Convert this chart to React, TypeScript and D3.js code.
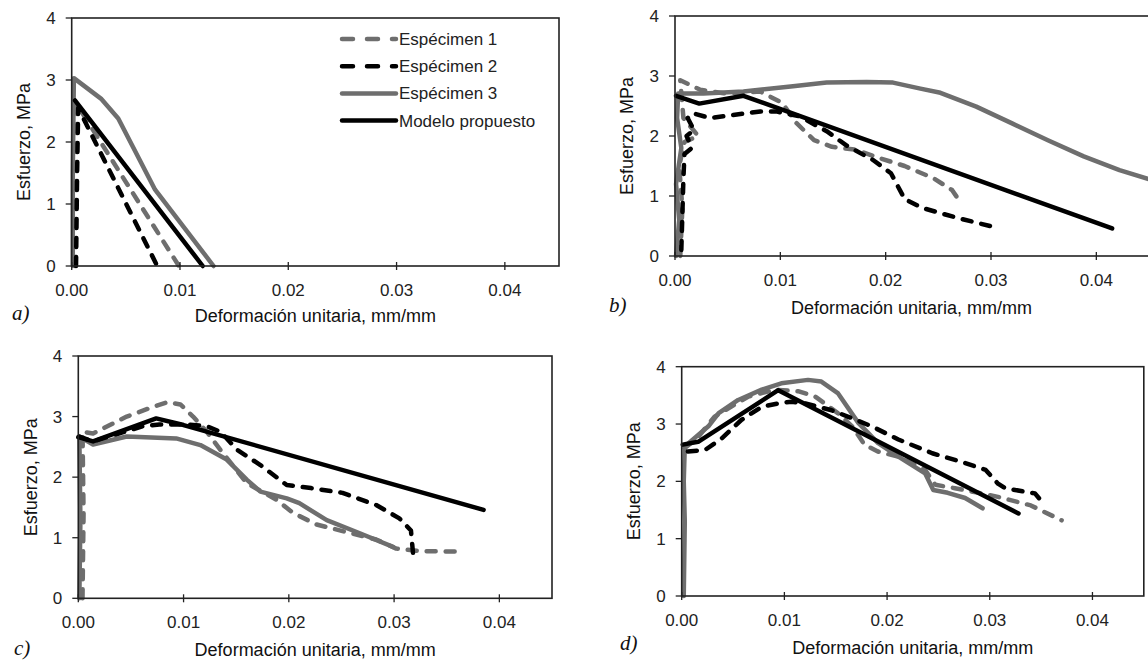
import React from 'react';
import * as d3 from 'd3';

type Pt = [number, number];

// ---- data: [strain mm/mm, stress MPa] ----
const aEsp1: Pt[] = [[0.0003, 0], [0.0004, 1.4], [0.0005, 2.6], [0.0099, 0]];
const aEsp2: Pt[] = [[0.0004, 0], [0.0005, 1.5], [0.0006, 2.55], [0.0079, 0]];
const aEsp3: Pt[] = [[0.0001, 0], [0.0001, 1.5], [0.0002, 3.03], [0.0027, 2.7], [0.0043, 2.38], [0.0077, 1.23], [0.0131, 0]];
const aModelo: Pt[] = [[0.0003, 2.67], [0.0121, 0]];

const bEsp1: Pt[] = [[0.0005, 0], [0.0007, 0.8], [0.0004, 1.5], [0.0009, 1.9], [0.0022, 2.0], [0.0008, 2.3], [0.0005, 2.93], [0.0024, 2.77], [0.0047, 2.71], [0.0081, 2.74], [0.0102, 2.55], [0.0115, 2.22], [0.0132, 1.93], [0.0149, 1.82], [0.0172, 1.77], [0.0191, 1.65], [0.0218, 1.5], [0.0245, 1.3], [0.0263, 1.1], [0.027, 0.92]];
const bEsp2: Pt[] = [[0.0006, 0.1], [0.0007, 0.7], [0.0008, 1.3], [0.0009, 1.7], [0.0016, 1.8], [0.0011, 2.0], [0.0018, 2.1], [0.0012, 2.3], [0.0017, 2.38], [0.0033, 2.3], [0.0081, 2.41], [0.0096, 2.41], [0.0118, 2.33], [0.0144, 2.08], [0.0163, 1.84], [0.0188, 1.6], [0.0205, 1.38], [0.0218, 0.95], [0.0235, 0.8], [0.0269, 0.63], [0.0306, 0.47]];
const bEsp3: Pt[] = [[0.0001, 0], [0.0004, 0.6], [0.0001, 1.2], [0.0006, 1.8], [0.0002, 2.3], [0.0003, 2.71], [0.0027, 2.71], [0.0065, 2.74], [0.0112, 2.83], [0.0144, 2.89], [0.0182, 2.9], [0.0207, 2.89], [0.0233, 2.79], [0.0252, 2.72], [0.0286, 2.49], [0.032, 2.21], [0.0354, 1.93], [0.0388, 1.66], [0.0422, 1.43], [0.045, 1.28]];
const bModelo: Pt[] = [[0.0001, 2.67], [0.0023, 2.54], [0.0065, 2.67], [0.0415, 0.46]];

const cEsp1: Pt[] = [[0.0004, 0], [0.0005, 1.4], [0.0004, 2.75], [0.0014, 2.72], [0.0046, 3.0], [0.0071, 3.16], [0.0085, 3.24], [0.0097, 3.2], [0.0109, 3.0], [0.0122, 2.75], [0.0135, 2.45], [0.0151, 2.1], [0.016, 1.9], [0.0188, 1.63], [0.0204, 1.41], [0.0226, 1.22], [0.0251, 1.11], [0.0283, 0.97], [0.0302, 0.82], [0.0325, 0.78], [0.0362, 0.77]];
const cEsp2: Pt[] = [[0.0001, 2.67], [0.0014, 2.59], [0.0061, 2.84], [0.0077, 2.87], [0.0102, 2.87], [0.0122, 2.84], [0.0135, 2.75], [0.0151, 2.45], [0.0173, 2.2], [0.0198, 1.87], [0.0221, 1.82], [0.0251, 1.74], [0.0283, 1.54], [0.0305, 1.32], [0.0316, 1.12], [0.0318, 0.74]];
const cEsp3: Pt[] = [[0.0001, 0], [0.0002, 1.3], [0.0001, 2.67], [0.0014, 2.54], [0.0046, 2.67], [0.0093, 2.64], [0.0116, 2.53], [0.0141, 2.29], [0.016, 1.96], [0.0173, 1.76], [0.0198, 1.65], [0.021, 1.57], [0.0236, 1.29], [0.0268, 1.07], [0.0299, 0.85]];
const cModelo: Pt[] = [[0, 2.66], [0.0014, 2.59], [0.0074, 2.97], [0.01, 2.86], [0.0385, 1.46]];

const dEsp1: Pt[] = [[0.0003, 2.58], [0.0015, 2.75], [0.0032, 3.13], [0.0065, 3.48], [0.0091, 3.6], [0.0114, 3.57], [0.013, 3.48], [0.0152, 3.19], [0.0166, 2.96], [0.0178, 2.64], [0.0191, 2.52], [0.0211, 2.43], [0.0237, 2.2], [0.0247, 1.94], [0.0266, 1.88], [0.0292, 1.79], [0.0308, 1.73], [0.034, 1.58], [0.037, 1.32]];
const dEsp2: Pt[] = [[0.0006, 2.52], [0.0023, 2.55], [0.0039, 2.75], [0.0058, 3.07], [0.0078, 3.3], [0.0094, 3.36], [0.0107, 3.39], [0.012, 3.36], [0.0146, 3.24], [0.0166, 3.1], [0.0185, 2.96], [0.0211, 2.73], [0.0244, 2.49], [0.0276, 2.32], [0.0296, 2.2], [0.0308, 1.96], [0.0315, 1.88], [0.0334, 1.82], [0.0344, 1.79], [0.0352, 1.62]];
const dEsp3: Pt[] = [[0.0002, 0], [0.0003, 1.3], [0.0002, 2.0], [0.0003, 2.61], [0.0026, 2.96], [0.0036, 3.19], [0.0055, 3.42], [0.0078, 3.6], [0.0097, 3.71], [0.0123, 3.77], [0.0136, 3.74], [0.0152, 3.54], [0.0172, 3.02], [0.0191, 2.67], [0.0211, 2.43], [0.0237, 2.14], [0.0245, 1.85], [0.0259, 1.8], [0.0276, 1.71], [0.0293, 1.53]];
const dModelo: Pt[] = [[0.0001, 2.64], [0.0016, 2.69], [0.0094, 3.59], [0.0328, 1.44]];

const seriesNames = ['Espécimen 1', 'Espécimen 2', 'Espécimen 3', 'Modelo propuesto'];
const xTicks = [0, 0.01, 0.02, 0.03, 0.04];
const yTicks = [0, 1, 2, 3, 4];
const xTitle = 'Deformación unitaria, mm/mm';
const yTitle = 'Esfuerzo, MPa';

const GREY = '#6e6e6e';
const styles = [
  { color: GREY, dash: '9 10' },
  { color: '#000', dash: '9 10' },
  { color: GREY, dash: null },
  { color: '#000', dash: null },
];

interface PanelProps {
  left: number; right: number; top: number; bottom: number;
  series: Pt[][];
  tag: string; tagX: number; tagY: number;
  titleDy: number;
  legend?: boolean;
}

const Panel: React.FC<PanelProps> = ({ left, right, top, bottom, series, tag, tagX, tagY, titleDy, legend }) => {
  const x = d3.scaleLinear().domain([0, 0.045]).range([left, right]);
  const y = d3.scaleLinear().domain([0, 4]).range([bottom, top]);
  const line = d3.line<Pt>().x(d => x(d[0])).y(d => y(d[1]));
  const fmt = d3.format('.2f');
  // draw order: grey solid, grey dashed, black dashed, black solid
  const order = [2, 0, 1, 3];

  return (
    <g fontFamily="'Liberation Sans', Arial, sans-serif">
      {order.map(i => (
        <path key={i} d={line(series[i]) || ''} fill="none" stroke={styles[i].color}
          strokeWidth={4.5} strokeLinecap="round" strokeLinejoin="round"
          strokeDasharray={styles[i].dash || undefined} />
      ))}
      <rect x={left} y={top} width={right - left} height={bottom - top} fill="none" stroke="#222" strokeWidth={1.6} />
      {xTicks.map(t => (
        <g key={t}>
          <line x1={x(t)} x2={x(t)} y1={bottom - 4} y2={bottom + 4} stroke="#222" strokeWidth={1.3} />
          <text x={x(t)} y={bottom + 30} textAnchor="middle" fontSize={17} fill="#222">{fmt(t)}</text>
        </g>
      ))}
      {yTicks.map(t => (
        <g key={t}>
          <line x1={left - 6} x2={left} y1={y(t)} y2={y(t)} stroke="#222" strokeWidth={1.3} />
          <text x={left - 16} y={y(t)} dy="0.35em" textAnchor="end" fontSize={17} fill="#222">{t}</text>
        </g>
      ))}
      <text x={(left + Math.min(right, 1148)) / 2} y={bottom + titleDy} textAnchor="middle" fontSize={18} fill="#111">{xTitle}</text>
      <text transform={`translate(${left - 48},${(top + bottom) / 2}) rotate(-90)`} dy="0.35em"
        textAnchor="middle" fontSize={18} fill="#111">{yTitle}</text>
      <text x={tagX} y={tagY} fontFamily="'Liberation Serif', 'Times New Roman', serif" fontStyle="italic"
        fontSize={21} fill="#111">{tag}</text>
      {legend && seriesNames.map((name, i) => {
        const ly = 39 + i * 27.2;
        return (
          <g key={name}>
            <line x1={342} x2={396} y1={ly} y2={ly} stroke={styles[i].color} strokeWidth={4.5}
              strokeLinecap="round" strokeDasharray={styles[i].dash ? '11 14' : undefined} />
            <text x={399} y={ly} dy="0.35em" fontSize={17} fill="#222">{name}</text>
          </g>
        );
      })}
    </g>
  );
};

export default function App() {
  return (
    <svg width={1148} height={662} style={{ display: 'block', position: 'absolute', left: 0, top: 0, background: '#fff' }}>
      <rect width={1148} height={662} fill="#fff" />
      <Panel left={71.7} right={559} top={18} bottom={266} series={[aEsp1, aEsp2, aEsp3, aModelo]}
        tag="a)" tagX={12} tagY={320} titleDy={56} legend />
      <Panel left={675} right={1149} top={16} bottom={256} series={[bEsp1, bEsp2, bEsp3, bModelo]}
        tag="b)" tagX={609} tagY={312} titleDy={58} />
      <Panel left={78.3} right={552} top={356} bottom={598.3} series={[cEsp1, cEsp2, cEsp3, cModelo]}
        tag="c)" tagX={14} tagY={655} titleDy={58} />
      <Panel left={681.7} right={1143.8} top={366.7} bottom={596} series={[dEsp1, dEsp2, dEsp3, dModelo]}
        tag="d)" tagX={620} tagY={650} titleDy={58} />
    </svg>
  );
}
